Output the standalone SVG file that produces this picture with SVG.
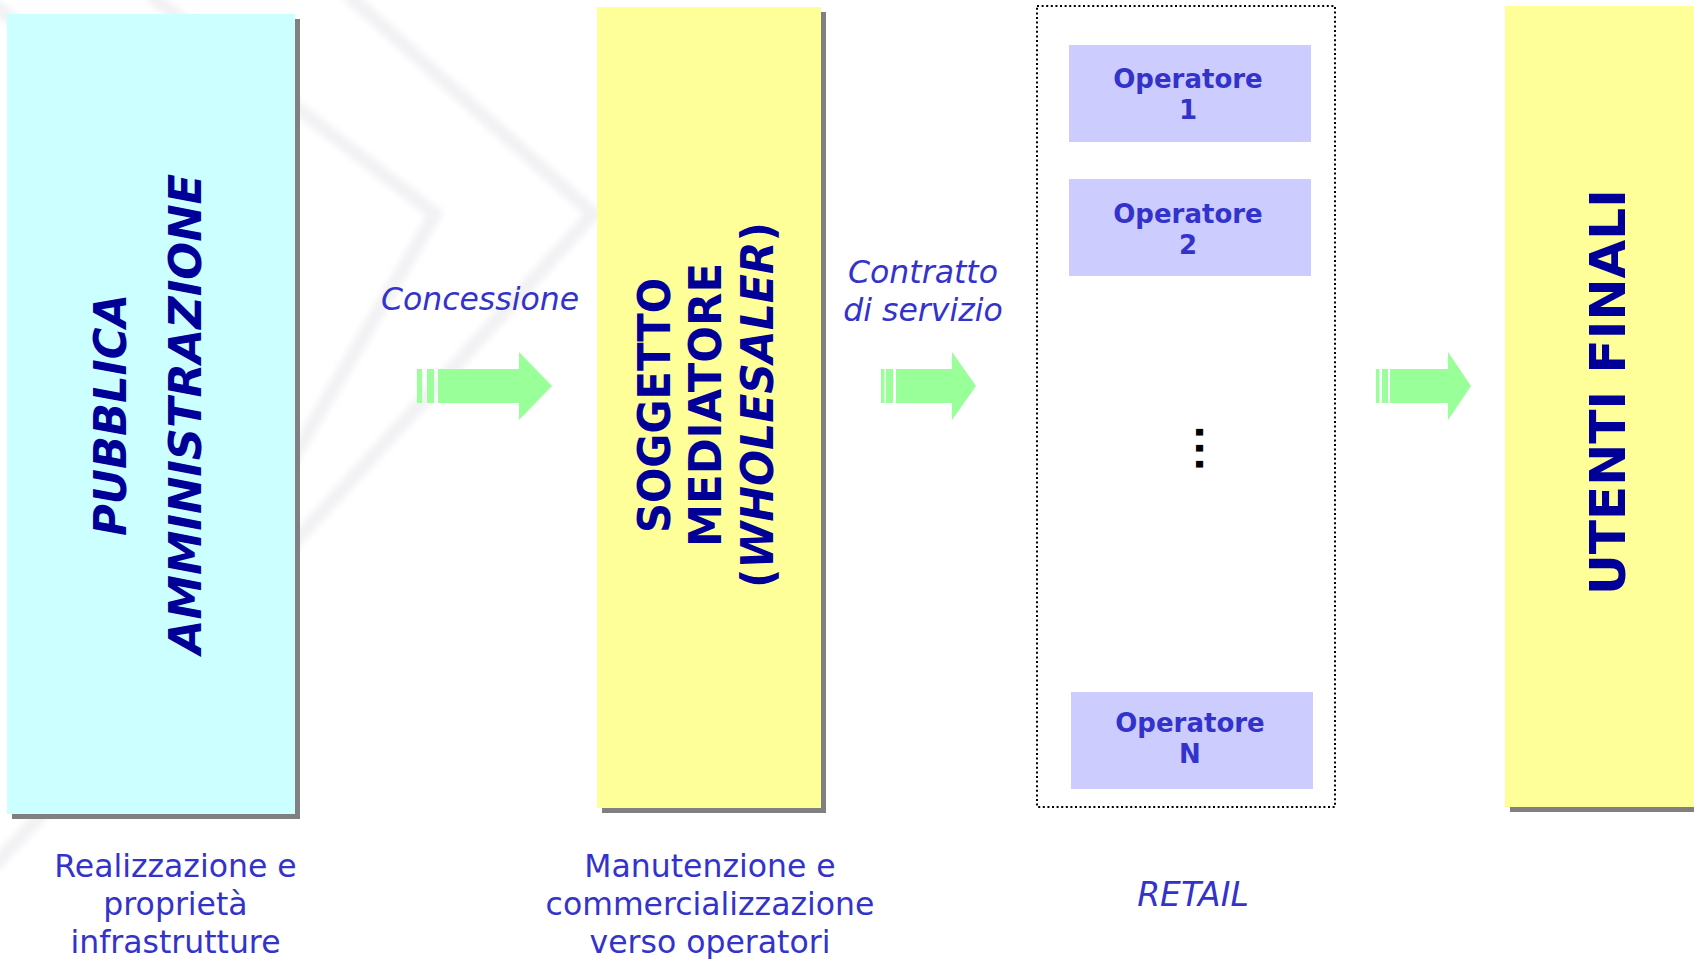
<svg xmlns="http://www.w3.org/2000/svg" width="1694" height="959" viewBox="0 0 1694 959">
  <style>
    .shadow { fill: #808080; }
    .title { font-family: "DejaVu Sans", Verdana, sans-serif; font-weight: bold; fill: #000099; text-anchor: middle; }
    .ital { font-style: italic; }
    .label { font-family: "DejaVu Sans", Verdana, sans-serif; fill: #3333CC; text-anchor: middle; }
    .op { fill: #CCCCFF; }
    .optext { font-family: "DejaVu Sans", Verdana, sans-serif; font-weight: bold; font-size: 26px; fill: #3333CC; text-anchor: middle; }
    .arrow { fill: #99FF99; }
    .wm { fill: none; stroke: #e9e9ee; stroke-width: 14; stroke-linejoin: miter; opacity: 0.6; }
  </style>
  <defs>
    <filter id="soft" x="-10%" y="-10%" width="120%" height="120%">
      <feGaussianBlur stdDeviation="3"/>
    </filter>
  </defs>
  <rect x="0" y="0" width="1694" height="959" fill="#ffffff"/>

  <g id="watermark" filter="url(#soft)">
    <path class="wm" d="M150,-5 L435,214 L300,446 L160,690"/>
    <path class="wm" d="M348,-5 L593,214 L300,536 L-10,870"/>
    <path class="wm" d="M-40,-20 L40,40"/>
  </g>

  <g id="pubblica-amministrazione">
    <rect class="shadow" x="12" y="19" width="288" height="800"/>
    <rect x="7" y="14" width="288" height="800" fill="#CCFFFF"/>
    <text class="title ital" font-size="44" textLength="242" lengthAdjust="spacingAndGlyphs" transform="translate(126,415) rotate(-90)">PUBBLICA</text>
    <text class="title ital" font-size="44" textLength="480" lengthAdjust="spacingAndGlyphs" transform="translate(201,414) rotate(-90)">AMMINISTRAZIONE</text>
  </g>

  <g id="soggetto-mediatore">
    <rect class="shadow" x="602" y="12" width="224" height="801"/>
    <rect x="597" y="7" width="224" height="801" fill="#FFFF99"/>
    <text class="title" font-size="44" textLength="255" lengthAdjust="spacingAndGlyphs" transform="translate(670,405.5) rotate(-90)">SOGGETTO</text>
    <text class="title" font-size="44" textLength="284" lengthAdjust="spacingAndGlyphs" transform="translate(721,405) rotate(-90)">MEDIATORE</text>
    <text class="title" font-size="44" textLength="366" lengthAdjust="spacingAndGlyphs" transform="translate(773,405) rotate(-90)">(<tspan class="ital">WHOLESALER</tspan>)</text>
  </g>

  <g id="retail">
    <rect x="1037" y="6" width="298" height="801" fill="none" stroke="#000000" stroke-width="2" stroke-dasharray="2 2.6"/>
    <g id="operatore-1">
      <rect class="op" x="1069" y="45" width="242" height="97"/>
      <text class="optext"><tspan x="1188" y="88">Operatore</tspan><tspan x="1188" y="119">1</tspan></text>
    </g>
    <g id="operatore-2">
      <rect class="op" x="1069" y="179" width="242" height="97"/>
      <text class="optext"><tspan x="1188" y="223">Operatore</tspan><tspan x="1188" y="254">2</tspan></text>
    </g>
    <g id="ellipsis">
      <text font-family="DejaVu Sans, sans-serif" font-weight="bold" font-size="38" fill="#000000" letter-spacing="1.6" transform="translate(1196,425) rotate(90)">...</text>
    </g>
    <g id="operatore-n">
      <rect class="op" x="1071" y="692" width="242" height="97"/>
      <text class="optext"><tspan x="1190" y="732">Operatore</tspan><tspan x="1190" y="763">N</tspan></text>
    </g>
  </g>

  <g id="utenti-finali">
    <rect class="shadow" x="1510" y="11" width="200" height="801"/>
    <rect x="1505" y="6" width="200" height="801" fill="#FFFF99"/>
    <text class="title" font-size="49" textLength="406" lengthAdjust="spacingAndGlyphs" transform="translate(1625,392) rotate(-90)">UTENTI FINALI</text>
  </g>

  <g id="connectors">
    <g id="arrow-concessione">
      <rect class="arrow" x="417" y="369" width="5" height="34"/>
      <rect class="arrow" x="427" y="369" width="7" height="34"/>
      <polygon class="arrow" points="438,369 519,369 519,352 552,386 519,420 519,403 438,403"/>
    </g>
    <g id="arrow-contratto">
      <rect class="arrow" x="881" y="369" width="3.5" height="34"/>
      <rect class="arrow" x="886" y="369" width="7" height="34"/>
      <polygon class="arrow" points="896,369 952,369 952,352 976,386 952,420 952,403 896,403"/>
    </g>
    <g id="arrow-utenti">
      <rect class="arrow" x="1376" y="369" width="3.5" height="34"/>
      <rect class="arrow" x="1382" y="369" width="6" height="34"/>
      <polygon class="arrow" points="1390,369 1448,369 1448,352 1471,386 1448,420 1448,403 1390,403"/>
    </g>
  </g>

  <g id="labels">
    <text class="label ital" font-size="31.5" x="480" y="310">Concessione</text>
    <text class="label ital" font-size="31.5"><tspan x="923" y="283">Contratto</tspan><tspan x="923" y="321">di servizio</tspan></text>
    <text class="label" font-size="31.5"><tspan x="175.5" y="877">Realizzazione e</tspan><tspan x="175.5" y="915">proprietà</tspan><tspan x="175.5" y="953">infrastrutture</tspan></text>
    <text class="label" font-size="31.5"><tspan x="710" y="877">Manutenzione e</tspan><tspan x="710" y="915">commercializzazione</tspan><tspan x="710" y="953">verso operatori</tspan></text>
    <text class="label ital" font-size="33" x="1193" y="906">RETAIL</text>
  </g>
</svg>
